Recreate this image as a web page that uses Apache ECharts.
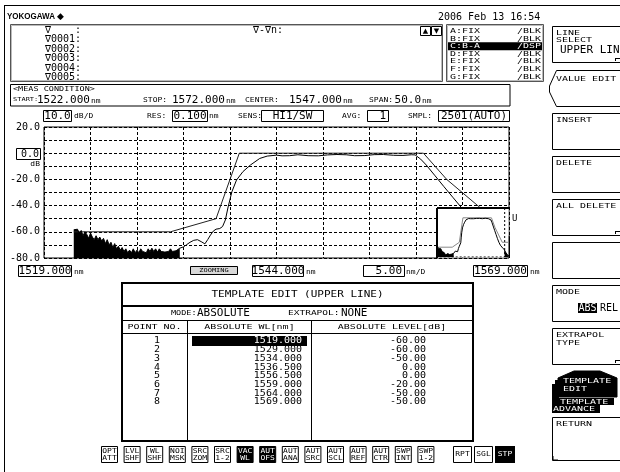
<!DOCTYPE html>
<html><head><meta charset="utf-8">
<script src="https://cdn.jsdelivr.net/npm/echarts@6.0.0/dist/echarts.min.js"></script>
<style>html,body{margin:0;padding:0;background:#fff}#c{width:620px;height:472px}</style>
</head><body><div id="c"></div>
<script>
// ---------- data ----------
const viewWL = [1519, 1569];          // zoomed display range (nm)
const viewLevel = [-80, 20];          // dB
const overviewWL = [1522, 1572];      // measured span shown in overview
const tableNo = [1, 2, 3, 4, 5, 6, 7, 8];
const tableWL = ['1519.000', '1529.000', '1534.000', '1536.500', '1556.500', '1559.000', '1564.000', '1569.000'];
const tableLevel = ['-60.00', '-60.00', '-50.00', '0.00', '0.00', '-20.00', '-50.00', '-50.00'];
// upper template line as drawn on screen (auto offset applied)
const templateDrawn = [[1522.2, -60], [1532.6, -60], [1537.5, -50], [1540.0, 0], [1559.8, 0], [1562.3, -20], [1567.3, -50], [1572.0, -50]];
// noise floor samples (left), 0.2 nm apart
const noiseLeftStart = 1522.2, noiseStep = 0.2;
const noiseLeft = [-58.5, -59.5, -58, -61, -59, -63, -60, -62, -65, -61, -64, -66, -63, -66, -64, -67, -65, -69, -66, -70,
  -68, -72, -69, -73, -71, -74, -72, -75, -73, -76, -74, -76, -73, -76, -74, -76, -73, -75, -74, -76,
  -73, -75, -72.5, -75, -73, -75.5, -73, -75, -73.5, -75.5, -74, -75, -73, -75, -73.5, -74.5, -73, -72.5];
const noiseRightStart = 1568.6;
const noiseRight = [-64, -66, -63, -68, -65, -70, -67, -72, -69, -74, -70, -75, -72, -76, -73, -77, -74, -78];
const traceCurve = [[1533.6, -72.5], [1534.0, -71.5], [1534.3, -70], [1534.7, -68], [1535.1, -66.5], [1535.5, -66], [1535.9, -67.5],
  [1536.3, -69.2], [1536.6, -66], [1536.9, -62.5], [1537.2, -59.5], [1537.5, -58], [1537.9, -57.5], [1538.2, -56], [1538.5, -51],
  [1538.8, -41], [1539.2, -29.5], [1539.7, -20.5], [1540.4, -14], [1541.2, -9], [1542.2, -4], [1543.0, -2.2], [1544.0, -1.5],
  [1544.6, -2], [1545.4, -1.9], [1546.3, -1.2], [1547.4, -1.9], [1548.5, -2], [1549.5, -1.3], [1550.5, -1], [1551.5, -1.2],
  [1552.4, -1.9], [1553.5, -1.8], [1554.5, -1.1], [1555.5, -1], [1556.6, -1.6], [1557.6, -1.7], [1558.5, -1.2], [1558.9, -1.3],
  [1559.5, -4.5], [1560.1, -9], [1561.0, -16.8], [1562.0, -25.5], [1563.0, -34], [1564.0, -42.5], [1565.0, -50], [1566.0, -56],
  [1567.0, -60], [1568.0, -63], [1568.6, -64]];
const markerLabels = ['\u2207    :', '\u22070001:', '\u22070002:', '\u22070003:', '\u22070004:', '\u22070005:'];
const traceNames = ['A:FIX', 'B:FIX', 'C:B-A', 'D:FIX', 'E:FIX', 'F:FIX', 'G:FIX'];
const traceModes = ['/BLK', '/BLK', '/DSP', '/BLK', '/BLK', '/BLK', '/BLK'];
const bottomKeys = [['OPT', 'ATT'], ['LVL', 'SHF'], ['WL', 'SHF'], ['NOI', 'MSK'], ['SRC', 'ZOM'], ['SRC', '1-2'], ['VAC', 'WL'], ['AUT', 'OFS'],
  ['AUT', 'ANA'], ['AUT', 'SRC'], ['AUT', 'SCL'], ['AUT', 'REF'], ['AUT', 'CTR'], ['SWP', 'INT'], ['SWP', '1-2']];

// ---------- helpers ----------
const MONO = '"DejaVu Sans Mono", "Liberation Mono", monospace';
function pairs(start, step, vals) { return vals.map((v, i) => [+(start + i * step).toFixed(2), v]); }
function T(x, y, text, size, o) {
  o = o || {};
  return { type: 'text', x: x, y: y, z: o.z || 50, silent: true, scaleY: o.sy || 1,
    style: { text: text, font: (o.weight || 'normal') + ' ' + size + 'px ' + (o.family || MONO), fill: o.fill || '#000',
      textAlign: o.align || 'left', textVerticalAlign: 'middle', align: o.align || 'left', verticalAlign: 'middle' } };
}
function S(x, y, text, o) { o = Object.assign({ sy: 0.78 }, o || {}); return T(x, y, text, o.size || 10, o); }
function R(x, y, w, h, o) {
  o = o || {};
  return { type: 'rect', z: o.z || 40, silent: true, shape: { x: x, y: y, width: w, height: h },
    style: { fill: o.fill || 'none', stroke: o.stroke === undefined ? '#000' : o.stroke, lineWidth: o.lw || 1 } };
}
function L(x1, y1, x2, y2, o) {
  o = o || {};
  return { type: 'line', z: o.z || 40, silent: true, shape: { x1: x1, y1: y1, x2: x2, y2: y2 },
    style: { stroke: o.stroke || '#000', lineWidth: o.lw || 1, lineDash: o.dash || null } };
}
function P(points, o) {
  o = o || {};
  return { type: o.line ? 'polyline' : 'polygon', z: o.z || 40, silent: true, shape: { points: points },
    style: { fill: o.fill || 'none', stroke: o.stroke || '#000', lineWidth: o.lw || 1 } };
}

const g = [];
// outer frame
g.push(L(4.5, 5, 4.5, 472), L(4, 5.5, 620, 5.5));
// header
g.push(T(7, 17, 'YOKOGAWA', 8, { family: '"Liberation Sans", Arial', weight: 'bold', sy: 1.1 }));
g.push(T(57, 17, '\u25C6', 9, { family: '"DejaVu Sans"' }));
g.push(T(438, 17, '2006 Feb 13 16:54', 10));
// marker box
g.push(R(10.5, 24.5, 432, 57, { stroke: '#555' }), R(11.5, 25.5, 430, 55, { stroke: '#bbb' }));
markerLabels.forEach((s, i) => g.push(T(45, 30 + 9.5 * i, s, 10)));
g.push(T(253, 30, '\u2207-\u2207n:', 10));
g.push(R(420.5, 26.5, 10, 9), R(431.5, 26.5, 10, 9), T(425.5, 31, '\u25B2', 7, { align: 'center', family: '"DejaVu Sans"' }),
  T(436.5, 31, '\u25BC', 7, { align: 'center', family: '"DejaVu Sans"' }));
// trace list
g.push(R(446.5, 24.5, 97, 57, { stroke: '#555' }), R(447.5, 25.5, 95, 55, { stroke: '#bbb' }));
traceNames.forEach((s, i) => {
  const y = 31 + 7.6 * i;
  const on = traceModes[i] === '/DSP';
  if (on) g.push(R(448, y - 4, 94, 8, { fill: '#000', stroke: null }));
  g.push(S(450, y, s, { fill: on ? '#fff' : '#000' }), S(541, y, traceModes[i], { align: 'right', fill: on ? '#fff' : '#000' }));
});
// meas condition
g.push(R(10.5, 84.5, 499.5, 21.5));
g.push(S(13, 89, '<MEAS CONDITION>', { size: 8.5 }));
g.push(S(13, 100, 'START:', { size: 7 }), T(37, 100, '1522.000', 11), S(91, 101, 'nm', { size: 8 }));
g.push(S(143, 100, 'STOP:', { size: 8 }), T(172, 100, '1572.000', 11), S(226, 101, 'nm', { size: 8 }));
g.push(S(245, 100, 'CENTER:', { size: 8 }), T(289, 100, '1547.000', 11), S(343, 101, 'nm', { size: 8 }));
g.push(S(369, 100, 'SPAN:', { size: 8 }), T(421, 100, '50.0', 11, { align: 'right' }), S(422, 101, 'nm', { size: 8 }));
// chart header row
g.push(R(43.5, 110.5, 28, 11), T(57.5, 116, '10.0', 11, { align: 'center' }), S(74, 116, 'dB/D', { size: 8 }));
g.push(S(147, 116, 'RES:', { size: 8 }), R(172.5, 110.5, 35, 11), T(190, 116, '0.100', 11, { align: 'center' }), S(209, 116, 'nm', { size: 8 }));
g.push(S(238, 116, 'SENS:', { size: 8 }), R(261.5, 110.5, 62, 11), T(292.5, 116, 'HI1/SW', 11, { align: 'center' }));
g.push(S(342, 116, 'AVG:', { size: 8 }), R(367.5, 110.5, 21, 11), T(386, 116, '1', 11, { align: 'right' }));
g.push(S(408, 116, 'SMPL:', { size: 8 }), R(438.5, 110.5, 71, 11), T(474, 116, '2501(AUTO)', 11, { align: 'center' }));
// y "0.0" box
g.push(R(16.5, 148.5, 24, 11), T(39, 154, '0.0', 10, { align: 'right' }), S(40, 164, 'dB', { size: 8, align: 'right' }));
// bottom label row
g.push(R(18.5, 265.5, 53, 11), T(45, 271, '1519.000', 11, { align: 'center' }), S(74, 272, 'nm', { size: 8 }));
g.push(R(190.5, 266.5, 47, 8, { fill: '#d8d8d8' }), S(214, 270.5, 'ZOOMING', { size: 7, align: 'center' }));
g.push(R(252.5, 265.5, 51, 11), T(278, 271, '1544.000', 11, { align: 'center' }), S(306, 272, 'nm', { size: 8 }));
g.push(R(363.5, 265.5, 41, 11), T(402, 271, '5.00', 11, { align: 'right' }), S(406, 272, 'nm/D', { size: 8 }));
g.push(R(473.5, 265.5, 54, 11), T(500.5, 271, '1569.000', 11, { align: 'center' }), S(530, 272, 'nm', { size: 8 }));
// template table
g.push(R(122, 283, 351, 158, { lw: 2 }), L(122, 306, 473, 306, { lw: 2 }), L(122, 320.5, 473, 320.5), L(122, 333.5, 473, 333.5),
  L(187.5, 320.5, 187.5, 441), L(311.5, 320.5, 311.5, 441));
g.push(S(297.5, 295, 'TEMPLATE EDIT (UPPER LINE)', { size: 11, align: 'center' }));
g.push(S(171, 313.5, 'MODE:', { size: 8.5 }), T(197, 313.5, 'ABSOLUTE', 11), S(288, 313.5, 'EXTRAPOL:', { size: 9.5 }), T(341, 313.5, 'NONE', 11));
g.push(S(154.5, 327, 'POINT NO.', { align: 'center' }), S(249.5, 327, 'ABSOLUTE WL[nm]', { align: 'center' }),
  S(392, 327, 'ABSOLUTE LEVEL[dB]', { align: 'center' }));
tableNo.forEach((n, i) => {
  const y = 341 + 8.7 * i;
  if (i === 0) g.push(R(192, 336, 115, 10, { fill: '#000', stroke: null }));
  g.push(T(160, y, String(n), 10, { align: 'right', sy: 0.95 }));
  g.push(T(302, y, tableWL[i], 10, { align: 'right', sy: 0.95, fill: i === 0 ? '#fff' : '#000' }));
  g.push(T(426, y, tableLevel[i], 10, { align: 'right', sy: 0.95 }));
});
// bottom function keys
bottomKeys.forEach((k, i) => {
  const x = 101 + 22.6 * i;
  const on = (k[0] === 'VAC') || (k[0] === 'AUT' && k[1] === 'OFS');
  g.push(R(x + 0.5, 446.5, 16, 16, { fill: on ? '#000' : '#fff' }));
  g.push(S(x + 8.5, 451, k[0], { size: 8, align: 'center', fill: on ? '#fff' : '#000' }));
  g.push(S(x + 8.5, 458, k[1], { size: 8, align: 'center', fill: on ? '#fff' : '#000' }));
});
g.push(R(453.5, 446.5, 18, 16), S(462.5, 454.5, 'RPT', { size: 8, align: 'center' }));
g.push(R(474.5, 446.5, 18, 16), S(483.5, 454.5, 'SGL', { size: 8, align: 'center' }));
g.push(R(495, 446, 20, 17, { fill: '#000', stroke: null }), S(505, 454.5, 'STP', { size: 8, align: 'center', fill: '#fff' }));
// soft keys (right column)
function key(y, h) { g.push(R(552.5, y + 0.5, 80, h)); }
key(26, 36); g.push(S(556, 33, 'LINE'), S(556, 40, 'SELECT'), T(560, 50, 'UPPER LINE', 11), L(615, 58.5, 620, 58.5), L(615.5, 58, 615.5, 61));
g.push(P([[620, 70.5], [556.5, 70.5], [549.5, 86], [549.5, 92], [556.5, 106.5], [620, 106.5]], { line: true }), S(556, 79, 'VALUE EDIT'));
key(113, 36); g.push(S(556, 120, 'INSERT'));
key(156, 36); g.push(S(556, 163, 'DELETE'));
key(199, 36); g.push(S(556, 206, 'ALL DELETE'), L(615, 231.5, 620, 231.5), L(615.5, 231, 615.5, 234));
key(242, 36);
key(285, 36); g.push(S(556, 292, 'MODE'), R(578, 303, 19, 10, { fill: '#000', stroke: null }), T(587.5, 308, 'ABS', 10, { align: 'center', fill: '#fff' }), T(600, 308, 'REL', 10));
key(328, 36); g.push(S(556, 335, 'EXTRAPOL'), S(556, 343, 'TYPE'), L(615, 360.5, 620, 360.5), L(615.5, 360, 615.5, 363));
// template edit / advance stacked tabs
g.push(R(552, 384, 4, 29, { fill: '#000', stroke: null }), R(555, 380, 4, 25, { fill: '#000', stroke: null }));
g.push(P([[558, 378], [574, 371], [600, 371], [617, 378], [617, 397], [558, 397]], { fill: '#000' }));
g.push(S(563, 381, 'TEMPLATE', { fill: '#fff' }), S(563, 389, 'EDIT', { fill: '#fff' }));
g.push(R(557, 398, 57, 7, { fill: '#000', stroke: null }), S(560, 401.5, 'TEMPLATE', { fill: '#fff' }));
g.push(R(552, 405, 48, 8, { fill: '#000', stroke: null }), S(553, 409, 'ADVANCE', { fill: '#fff' }));
key(417, 43); g.push(S(556, 424, 'RETURN'), P([[553, 456], [553, 460], [558, 460]], { line: true }));

// ---------- chart ----------
const chart = echarts.init(document.getElementById('c'), null, { renderer: 'canvas' });
const inset = { left: 437, top: 208, width: 72, height: 49 };
// overview mask and frame
g.push(R(inset.left, inset.top - 1, inset.width - 0.5, inset.height + 1.5, { fill: '#fff', stroke: null, z: 10 }));
g.push(L(inset.left, inset.top, inset.left + inset.width, inset.top, { lw: 2, z: 60 }),
  L(inset.left, inset.top, inset.left, inset.top + inset.height + 1, { lw: 2, z: 60 }));

const noiseL = pairs(noiseLeftStart, noiseStep, noiseLeft);
const noiseR = pairs(noiseRightStart, noiseStep, noiseRight);
const dashAxis = { show: true, lineStyle: { color: '#000', type: [3, 2], width: 1 } };

function traceSeries(ax, z, tplColor) {
  return [
    { type: 'line', xAxisIndex: ax, yAxisIndex: ax, data: templateDrawn, symbol: 'none', z: z, silent: true,
      lineStyle: { color: tplColor, width: 1 } },
    { type: 'line', xAxisIndex: ax, yAxisIndex: ax, data: noiseL, symbol: 'none', z: z, silent: true,
      lineStyle: { color: '#000', width: 1 }, areaStyle: { color: '#000', opacity: 1, origin: 'start' } },
    { type: 'line', xAxisIndex: ax, yAxisIndex: ax, data: traceCurve, symbol: 'none', z: z, silent: true,
      lineStyle: { color: '#000', width: 1 } },
    { type: 'line', xAxisIndex: ax, yAxisIndex: ax, data: noiseR, symbol: 'none', z: z, silent: true,
      lineStyle: { color: '#000', width: 1 }, areaStyle: { color: '#000', opacity: 1, origin: 'start' } }
  ];
}

const option = {
  animation: false,
  backgroundColor: '#fff',
  grid: [
    { left: 44, top: 127, width: 465, height: 131, show: true, borderColor: '#000', borderWidth: 1, backgroundColor: '#fff', containLabel: false },
    Object.assign({ show: false }, inset)
  ],
  xAxis: [
    { type: 'value', gridIndex: 0, min: viewWL[0], max: viewWL[1], interval: 5, axisLine: { show: false }, axisTick: { show: false },
      axisLabel: { show: false }, splitLine: dashAxis },
    { type: 'value', gridIndex: 1, min: overviewWL[0], max: overviewWL[1], show: false, splitLine: { show: false } }
  ],
  yAxis: [
    { type: 'value', gridIndex: 0, min: viewLevel[0], max: viewLevel[1], interval: 10, axisLine: { show: false }, axisTick: { show: false },
      splitLine: dashAxis,
      axisLabel: { margin: 4, color: '#000', fontFamily: MONO, fontSize: 10,
        formatter: v => (v % 20 === 0 && v !== 0) ? v.toFixed(1) : '' } },
    { type: 'value', gridIndex: 1, min: viewLevel[0], max: viewLevel[1], show: false, splitLine: { show: false } }
  ],
  series: traceSeries(0, 2, '#222').concat(traceSeries(1, 20, '#888')).concat([
    { type: 'line', xAxisIndex: 1, yAxisIndex: 1, symbol: 'none', z: 21, silent: true,
      data: [[viewWL[1], viewLevel[1]], [viewWL[1], viewLevel[0]], [viewWL[0], viewLevel[0]]],
      lineStyle: { color: '#000', width: 1, type: [2, 2] } }
  ]),
  graphic: { elements: g }
};
chart.setOption(option);
// "U" tag at the right end of the upper line
const uPos = chart.convertToPixel({ gridIndex: 0 }, [viewWL[1], templateDrawn[templateDrawn.length - 1][1]]);
chart.setOption({ graphic: { elements: g.concat([T(uPos[0] + 3, uPos[1], 'U', 9)]) } });
</script></body></html>
